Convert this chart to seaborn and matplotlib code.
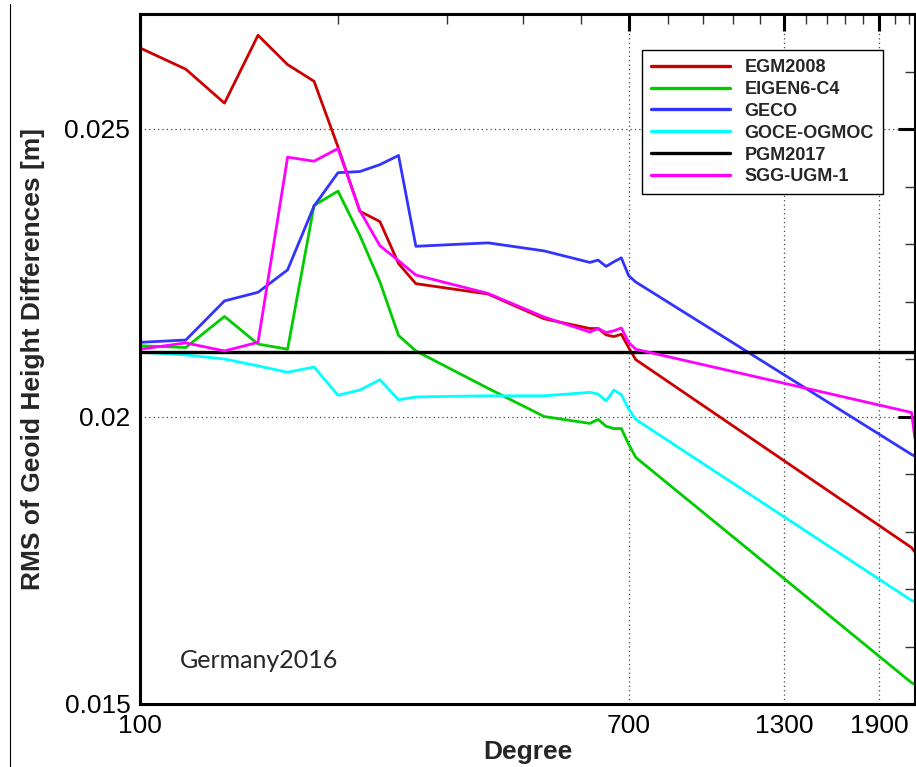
import pandas as pd
import matplotlib
matplotlib.use('Agg')
import matplotlib.pyplot as plt
from matplotlib.lines import Line2D
from matplotlib.ticker import FixedLocator, NullFormatter, FixedFormatter
import seaborn as sns

# Degrees where the models were evaluated
degrees = [100, 120, 140, 160, 180, 200, 220, 240, 260, 280, 300,
           400, 500, 600, 620, 640, 660, 680, 700, 720, 2160, 2190]

egm2008 = [0.02641, 0.02604, 0.02545, 0.02663, 0.02612, 0.02583, 0.02469, 0.02357, 0.02339, 0.02266, 0.02231,
           0.02213, 0.02170, 0.02153, 0.02153, 0.02142, 0.02139, 0.02143, 0.02120, 0.02099, 0.01772, 0.01764]
eigen6c4 = [0.02123, 0.02120, 0.02174, 0.02126, 0.02117, 0.02367, 0.02392, 0.02315, 0.02234, 0.02141, 0.02114,
            0.02049, 0.02000, 0.01988, 0.01995, 0.01983, 0.01979, 0.01979, 0.01952, 0.01929, 0.01537, 0.01534]
geco = [0.02129, 0.02133, 0.02201, 0.02216, 0.02255, 0.02366, 0.02424, 0.02426, 0.02438, 0.02454, 0.02296,
        0.02302, 0.02288, 0.02268, 0.02272, 0.02261, 0.02269, 0.02276, 0.02245, 0.02234, 0.01934, 0.01931]
goce_ogmoc = [0.02112, 0.02107, 0.02100, 0.02088, 0.02077, 0.02086, 0.02037, 0.02046, 0.02064, 0.02029, 0.02034,
              0.02036, 0.02036, 0.02042, 0.02039, 0.02027, 0.02046, 0.02038, 0.02013, 0.01995, 0.01680, 0.01678]
sgg_ugm1 = [0.02117, 0.02128, 0.02114, 0.02129, 0.02451, 0.02444, 0.02466, 0.02358, 0.02297, 0.02271, 0.02246,
            0.02214, 0.02173, 0.02147, 0.02153, 0.02146, 0.02149, 0.02154, 0.02129, 0.02117, 0.02007, 0.01961]

# PGM2017 is the reference: flat line
pgm_degrees = [100, 2190]
pgm2017 = [0.02113, 0.02113]

models = ['EGM2008', 'EIGEN6-C4', 'GECO', 'GOCE-OGMOC', 'PGM2017', 'SGG-UGM-1']
colors = ['#cc0000', '#00cc00', '#3333ff', '#00ffff', '#000000', '#ff00ff']

x_major = [100, 700, 1300, 1900]
x_minor = [220, 340, 460, 580, 820, 940, 1060, 1180, 1420, 1540, 1660, 1780, 2020, 2140]
y_major = [0.015, 0.02, 0.025]
y_minor = [0.016, 0.017, 0.018, 0.019, 0.021, 0.022, 0.023, 0.024, 0.026]

series = {'EGM2008': (degrees, egm2008), 'EIGEN6-C4': (degrees, eigen6c4), 'GECO': (degrees, geco),
          'GOCE-OGMOC': (degrees, goce_ogmoc), 'PGM2017': (pgm_degrees, pgm2017), 'SGG-UGM-1': (degrees, sgg_ugm1)}
frames = [pd.DataFrame({'Degree': d, 'RMS': v, 'Model': m}) for m, (d, v) in series.items()]
df = pd.concat(frames, ignore_index=True)

sns.set_style('white')
plt.rcParams['font.family'] = ['Liberation Sans', 'DejaVu Sans']

fig = plt.figure(figsize=(9.16, 7.67), dpi=100)
ax = fig.add_axes([140 / 916, 63 / 767, 775 / 916, 690 / 767])

sns.lineplot(data=df, x='Degree', y='RMS', hue='Model', hue_order=models,
             palette=dict(zip(models, colors)), estimator=None, linewidth=2,
             legend=False, ax=ax)
for line, m in zip(ax.get_lines(), models):
    if m == 'PGM2017':
        line.set_linewidth(2.4)

ax.set_xscale('log')
ax.set_xlim(100, 2190)
ax.set_ylim(0.015, 0.027)

ax.xaxis.set_major_locator(FixedLocator(x_major))
ax.xaxis.set_major_formatter(FixedFormatter([str(v) for v in x_major]))
ax.xaxis.set_minor_locator(FixedLocator(x_minor))
ax.xaxis.set_minor_formatter(NullFormatter())
ax.yaxis.set_major_locator(FixedLocator(y_major))
ax.yaxis.set_major_formatter(FixedFormatter(['0.015', '0.02', '0.025']))
ax.yaxis.set_minor_locator(FixedLocator(y_minor))
ax.yaxis.set_minor_formatter(NullFormatter())

ax.tick_params(which='major', direction='in', length=12, width=2.2, labelsize=19,
               top=True, right=True, pad=7, colors='black')
ax.tick_params(which='minor', direction='in', length=7, width=1.0,
               top=True, right=True, color='#333333')
for s in ax.spines.values():
    s.set_linewidth(2.2)
    s.set_color('black')

ax.grid(which='major', linestyle=(0, (1, 2.5)), color='#444444', linewidth=0.9)
ax.set_axisbelow(True)

ax.set_xlabel('Degree', fontsize=19, fontweight='bold', labelpad=2)
ax.set_ylabel('RMS of Geoid Height Differences [m]', fontsize=19, fontweight='bold', labelpad=14)

handles = [Line2D([], [], color=c, lw=2.4) for c in colors]
leg = ax.legend(handles, models, loc='upper right', bbox_to_anchor=(0.9587, 0.9478),
                borderaxespad=0, fancybox=False, framealpha=1, edgecolor='black',
                prop={'weight': 'bold', 'size': 13}, handlelength=4.4, handletextpad=0.8,
                labelspacing=0.27, borderpad=0.5)
leg.get_frame().set_linewidth(1.0)

ax.text(0.052, 0.052, 'Germany2016', transform=ax.transAxes, fontsize=18,
        family=['Lato', 'DejaVu Sans'], va='baseline', ha='left')

# thin frame line at the left edge of the picture
fig.add_artist(Line2D([9.5 / 916, 9.5 / 916], [0, 1 - 4 / 767], color='black', lw=0.8,
                      transform=fig.transFigure))

fig.savefig('out.png', dpi=100)
